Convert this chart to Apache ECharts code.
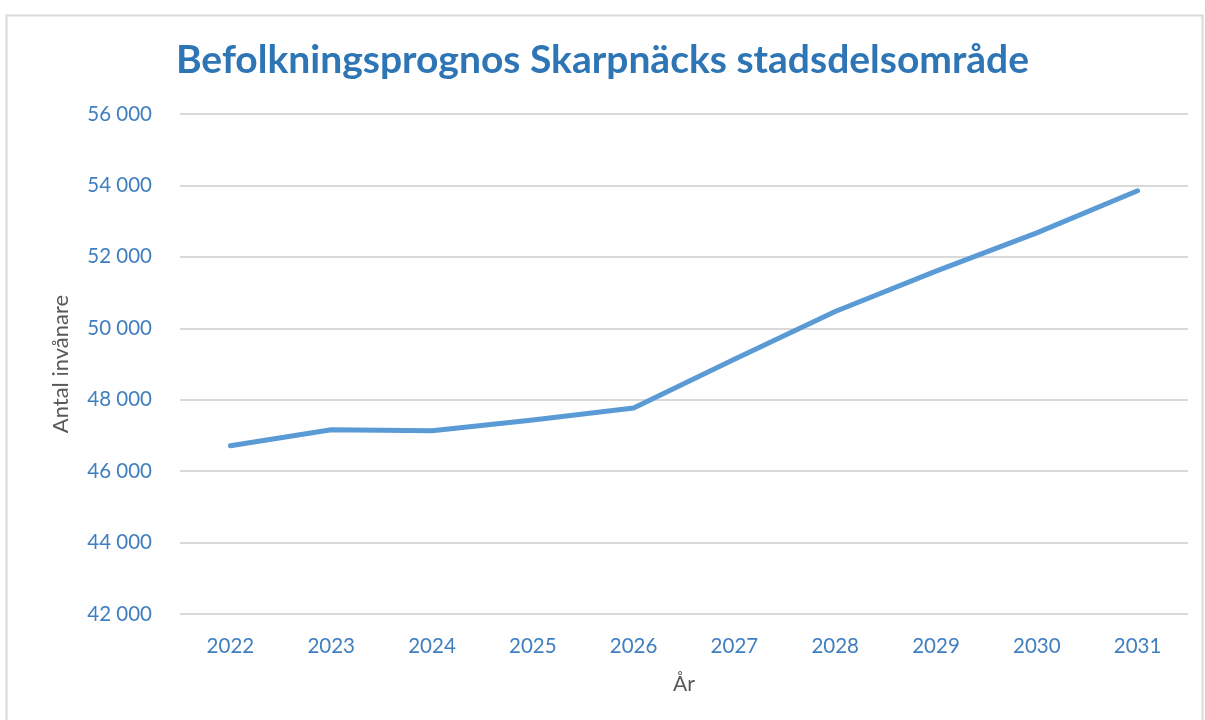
<!DOCTYPE html>
<html>
<head>
<meta charset="utf-8">
<script src="https://cdn.jsdelivr.net/npm/echarts@6/dist/echarts.min.js"></script>
<style>html,body{margin:0;padding:0;background:#fff;}#c{width:1205px;height:720px;}</style>
</head>
<body>
<div id="c"></div>
<script>
const categories = ['2022','2023','2024','2025','2026','2027','2028','2029','2030','2031'];
const inhabitants = [46710, 47160, 47130, 47430, 47770, 49130, 50470, 51600, 52670, 53850];
const yTicks = { min: 42000, max: 56000, interval: 2000 };

const chart = echarts.init(document.getElementById('c'));
chart.setOption({
  backgroundColor: '#fff',
  animation: false,
  graphic: [{
    type: 'rect', left: 4, top: 13, shape: { width: 1196, height: 720 },
    style: { fill: 'none', stroke: '#d9d9d9', lineWidth: 2 }, silent: true
  }],
  title: {
    text: 'Befolkningsprognos Skarpnäcks stadsdelsområde',
    left: 'center', top: 36,
    textStyle: { fontFamily: 'Lato', fontWeight: 'bold', fontSize: 39, color: '#2E75B6' }
  },
  grid: { left: 180, right: 17, top: 114, bottom: 106, containLabel: false },
  xAxis: {
    type: 'category', data: categories, boundaryGap: true,
    name: 'År', nameLocation: 'middle', nameGap: 60,
    nameTextStyle: { fontFamily: 'Lato', fontSize: 21, color: '#595959' },
    axisLine: { show: false }, axisTick: { show: false },
    axisLabel: { fontFamily: 'Lato', fontSize: 20.5, color: '#3f7fc0', margin: 22 }
  },
  yAxis: {
    type: 'value', min: yTicks.min, max: yTicks.max, interval: yTicks.interval,
    name: 'Antal invånare', nameLocation: 'middle', nameGap: 108, nameRotate: 90,
    nameTextStyle: { fontFamily: 'Lato', fontSize: 22, color: '#595959' },
    axisLine: { show: false }, axisTick: { show: false },
    splitLine: { lineStyle: { color: '#d9d9d9', width: 2 } },
    axisLabel: {
      fontFamily: 'Lato', fontSize: 20.5, color: '#3f7fc0', margin: 28,
      formatter: v => String(v).replace(/\B(?=(\d{3})+(?!\d))/g, ' ')
    }
  },
  series: [{
    type: 'line', data: inhabitants, showSymbol: false, symbol: 'none',
    lineStyle: { color: '#5B9BD5', width: 5, cap: 'round', join: 'round' }
  }]
});
</script>
</body>
</html>
